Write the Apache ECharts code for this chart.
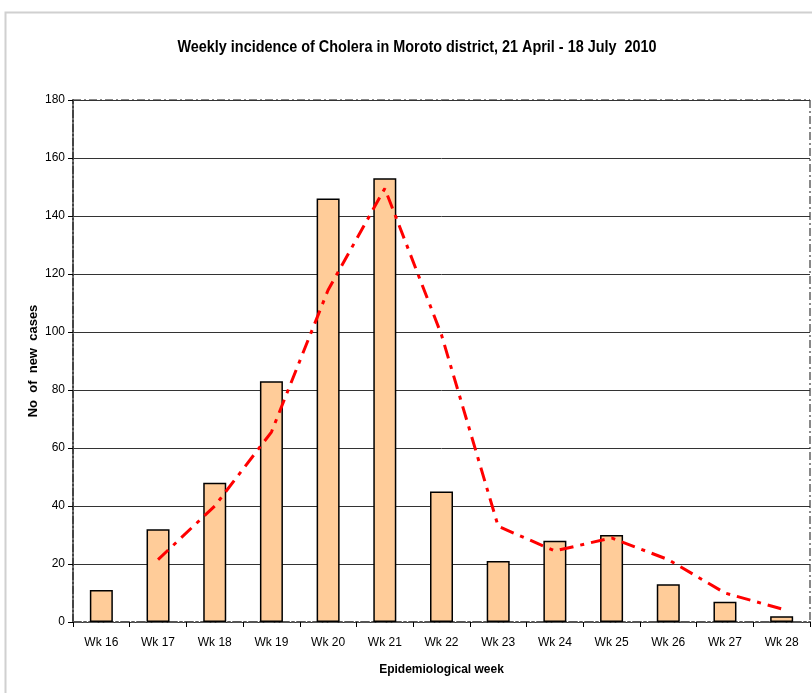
<!DOCTYPE html>
<html><head><meta charset="utf-8">
<script src="https://cdn.jsdelivr.net/npm/echarts@6/dist/echarts.min.js"></script>
<style>html,body{margin:0;padding:0;background:#fff}#c{width:812px;height:693px}</style>
</head><body><div id="c"></div>
<script>
const categories = ['Wk 16','Wk 17','Wk 18','Wk 19','Wk 20','Wk 21','Wk 22','Wk 23','Wk 24','Wk 25','Wk 26','Wk 27','Wk 28'];
const weeklyCases = [11, 32, 48, 83, 146, 153, 45, 21, 28, 30, 13, 7, 2];
const movingAvg = [null, 21.5, 40, 65.5, 114.5, 149.5, 99, 33, 24.5, 29, 21.5, 10, 4.5];
const yTicks = [0, 20, 40, 60, 80, 100, 120, 140, 160, 180];
const titleText = 'Weekly incidence of Cholera in Moroto district, 21 April - 18 July  2010';
const yAxisTitle = 'No  of  new  cases';

const chart = echarts.init(document.getElementById('c'), null, {renderer: 'canvas'});
chart.setOption({
  animation: false,
  backgroundColor: '#fff',
  graphic: [
    {type: 'polyline', shape: {points: [[5.5, 700], [5.5, 12.5], [820, 12.5]]}, style: {stroke: '#d0d0d0', lineWidth: 2, fill: null}, silent: true},
    {type: 'text', x: 417, y: 48, scaleX: 0.9, scaleY: 1,
     style: {text: titleText, font: 'bold 16px "Liberation Sans", Arial, sans-serif', fill: '#000', align: 'center', verticalAlign: 'middle'}, silent: true},
    {type: 'text', x: 33, y: 361, rotation: Math.PI / 2,
     style: {text: yAxisTitle, font: 'bold 13px "Liberation Sans", Arial, sans-serif', fill: '#000', align: 'center', verticalAlign: 'middle'}, silent: true},
    {type: 'line', shape: {x1: 73, y1: 100, x2: 810, y2: 100}, style: {stroke: '#888', lineWidth: 2, lineDash: [8, 3, 2, 3]}, silent: true},
    {type: 'line', shape: {x1: 810, y1: 100, x2: 810, y2: 622}, style: {stroke: '#888', lineWidth: 2, lineDash: [8, 3, 2, 3]}, silent: true}
  ],
  grid: {left: 73, right: 2, top: 100, bottom: 71, containLabel: false},
  xAxis: {
    type: 'category', data: categories,
    name: 'Epidemiological week', nameLocation: 'middle', nameGap: 42,
    nameTextStyle: {fontFamily: '"Liberation Sans", Arial, sans-serif', fontWeight: 'bold', fontSize: 12, color: '#000'},
    axisLine: {lineStyle: {color: '#555', width: 2, type: [8, 3, 2, 3]}},
    axisTick: {show: true, length: 5, lineStyle: {color: '#000'}},
    axisLabel: {fontFamily: '"Liberation Sans", Arial, sans-serif', fontSize: 12, color: '#000', margin: 15}
  },
  yAxis: {
    type: 'value', min: 0, max: 180, interval: 20,
    axisLine: {show: true, lineStyle: {color: '#444', width: 2, type: [8, 2, 2, 2]}},
    axisTick: {show: true, length: 5, lineStyle: {color: '#000'}},
    axisLabel: {fontFamily: '"Liberation Sans", Arial, sans-serif', fontSize: 12, color: '#000', margin: 8,
      formatter: v => yTicks.includes(v) ? String(v) : ''},
    splitLine: {show: true, lineStyle: {color: '#333', width: 1}}
  },
  series: [
    {type: 'bar', data: weeklyCases, barWidth: 23,
     itemStyle: {color: '#FFCC99', borderColor: '#000', borderWidth: 1.5}},
    {type: 'line', data: movingAvg, symbol: 'none', connectNulls: false,
     lineStyle: {color: '#FF0000', width: 3, type: [14, 7, 4, 7]}, z: 5}
  ]
});
</script></body></html>
